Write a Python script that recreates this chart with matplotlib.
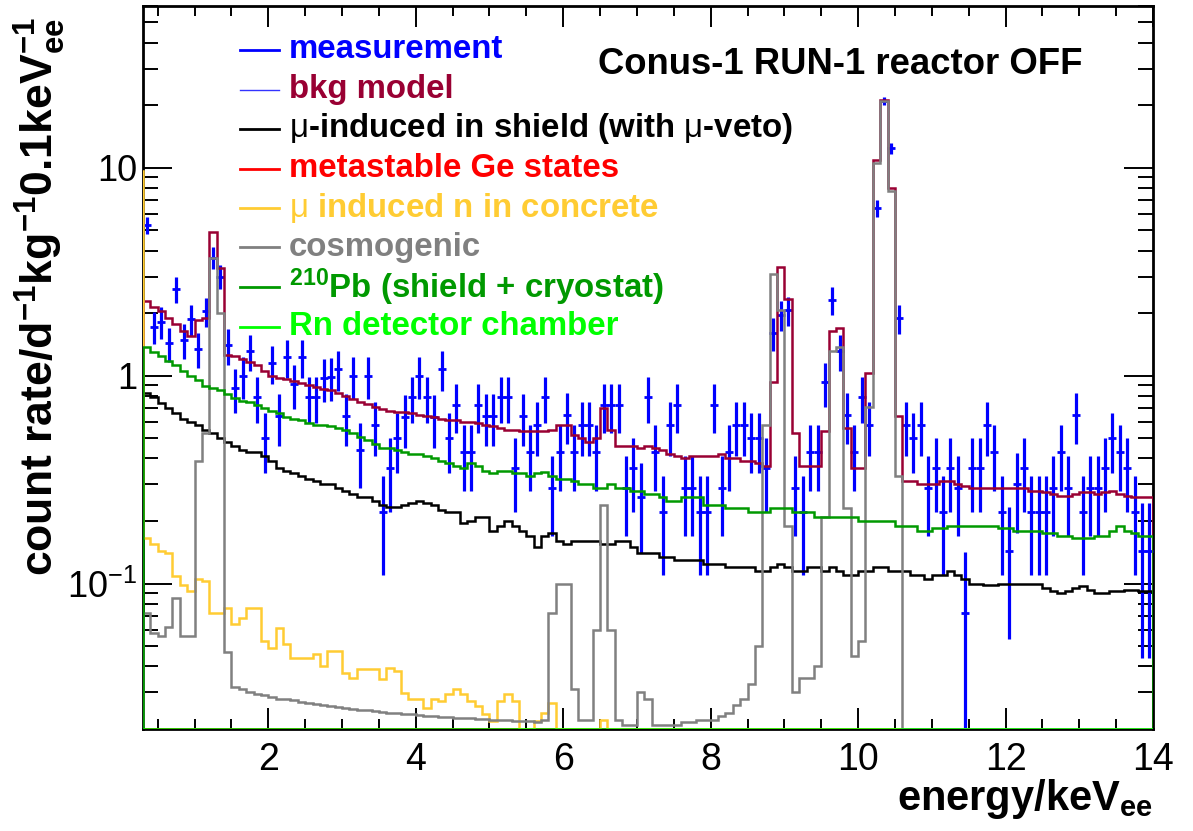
import numpy as np
import matplotlib
matplotlib.use("Agg")
import matplotlib.pyplot as plt
from matplotlib.ticker import FixedLocator, NullFormatter, MultipleLocator, FixedFormatter

plt.rcParams['font.family'] = ['Liberation Sans', 'DejaVu Sans']
plt.rcParams['mathtext.fontset'] = 'custom'
plt.rcParams['mathtext.rm'] = 'Liberation Sans'
plt.rcParams['mathtext.bf'] = 'Liberation Sans:bold'
plt.rcParams['mathtext.it'] = 'Liberation Sans:italic'

# ---------------- data (0.1 keV bins, 0.3 - 14.0 keV) ----------------
E_LO, E_HI, BIN_W = 0.3, 14.0, 0.1

measurement = [
    5.3, 1.72, 1.82, 1.43, 2.6, 1.49, 1.87, 1.35, 2.04, 3.7,
    3.0, 1.4, 0.87, 1.0, 1.31, 0.79, 0.50, 1.15, 0.64, 1.23,
    0.91, 1.23, 0.79, 0.79, 0.98, 0.99, 1.08, 0.64, 1.0, 0.44,
    1.0, 0.58, 0.22, 0.36, 0.50, 0.63, 0.79, 1.0, 0.79, 0.63,
    1.08, 0.50, 0.72, 0.43, 0.43, 0.72, 0.64, 0.64, 0.79, 0.79,
    0.36, 0.64, 0.43, 0.58, 0.79, 0.29, 0.43, 0.65, 0.43, 0.58,
    0.58, 0.43, 0.72, 0.72, 0.72, 0.29, 0.36, 0.26, 0.79, 0.43,
    0.22, 0.58, 0.72, 0.29, 0.29, 0.22, 0.22, 0.72, 0.29, 0.43,
    0.58, 0.58, 0.50, 0.50, 0.36, 1.6, 1.96, 2.07, 0.29, 0.22,
    0.43, 0.43, 0.93, 2.31, 1.31, 0.65, 0.43, 0.79, 0.58, 6.4,
    21.0, 12.4, 1.89, 0.58, 0.5, 0.58, 0.29, 0.36, 0.22, 0.36,
    0.29, 0.072, 0.36, 0.36, 0.58, 0.43, 0.22, 0.144, 0.3, 0.36,
    0.22, 0.22, 0.22, 0.29, 0.43, 0.29, 0.65, 0.22, 0.29, 0.29,
    0.36, 0.5, 0.43, 0.36, 0.22, 0.144, 0.144,
]
measurement_err = [
    0.52, 0.30, 0.31, 0.27, 0.37, 0.28, 0.31, 0.26, 0.33, 0.44,
    0.39, 0.27, 0.21, 0.23, 0.26, 0.20, 0.16, 0.24, 0.18, 0.25,
    0.22, 0.25, 0.20, 0.20, 0.23, 0.23, 0.24, 0.18, 0.23, 0.15,
    0.23, 0.17, 0.11, 0.14, 0.16, 0.18, 0.20, 0.23, 0.20, 0.18,
    0.24, 0.16, 0.19, 0.15, 0.15, 0.19, 0.18, 0.18, 0.20, 0.20,
    0.14, 0.18, 0.15, 0.17, 0.20, 0.12, 0.15, 0.18, 0.15, 0.17,
    0.17, 0.15, 0.19, 0.19, 0.19, 0.12, 0.14, 0.12, 0.20, 0.15,
    0.11, 0.17, 0.19, 0.12, 0.12, 0.11, 0.11, 0.19, 0.12, 0.15,
    0.17, 0.17, 0.16, 0.16, 0.14, 0.29, 0.32, 0.33, 0.12, 0.11,
    0.15, 0.15, 0.22, 0.35, 0.26, 0.18, 0.15, 0.20, 0.17, 0.58,
    1.0, 0.80, 0.31, 0.17, 0.16, 0.17, 0.12, 0.14, 0.11, 0.14,
    0.12, 0.07, 0.14, 0.14, 0.17, 0.15, 0.11, 0.09, 0.125, 0.14,
    0.11, 0.11, 0.11, 0.12, 0.15, 0.12, 0.18, 0.11, 0.12, 0.12,
    0.14, 0.16, 0.15, 0.14, 0.11, 0.10, 0.10,
]
bkg_model = [
    2.30, 2.15, 2.05, 1.90, 1.78, 1.65, 1.55, 1.85, 1.90, 4.90,
    3.30, 1.26, 1.24, 1.20, 1.17, 1.12, 1.05, 1.00, 0.98, 0.96,
    0.94, 0.92, 0.90, 0.88, 0.86, 0.85, 0.83, 0.80, 0.77, 0.75,
    0.73, 0.71, 0.69, 0.68, 0.67, 0.67, 0.66, 0.65, 0.64, 0.63,
    0.62, 0.61, 0.61, 0.60, 0.60, 0.59, 0.58, 0.57, 0.56, 0.55,
    0.55, 0.545, 0.54, 0.54, 0.545, 0.55, 0.58, 0.58, 0.52, 0.50,
    0.48, 0.50, 0.70, 0.55, 0.46, 0.46, 0.46, 0.45, 0.46, 0.45,
    0.44, 0.42, 0.41, 0.40, 0.41, 0.41, 0.41, 0.41, 0.42, 0.40,
    0.40, 0.39, 0.39, 0.38, 0.37, 0.93, 3.34, 2.34, 0.53, 0.37,
    0.37, 0.37, 0.54, 1.64, 1.70, 0.56, 0.36, 0.36, 1.03, 10.9,
    21.3, 8.0, 0.64, 0.31, 0.31, 0.30, 0.30, 0.30, 0.31, 0.31,
    0.30, 0.295, 0.29, 0.29, 0.29, 0.29, 0.29, 0.29, 0.29, 0.29,
    0.28, 0.28, 0.275, 0.27, 0.265, 0.265, 0.27, 0.275, 0.275, 0.27,
    0.275, 0.28, 0.27, 0.265, 0.26, 0.26, 0.26,
]
mu_shield = [
    0.83, 0.79, 0.74, 0.70, 0.66, 0.62, 0.60, 0.58, 0.55, 0.53,
    0.50, 0.48, 0.46, 0.44, 0.43, 0.43, 0.41, 0.39, 0.36, 0.35,
    0.34, 0.33, 0.32, 0.31, 0.30, 0.30, 0.29, 0.28, 0.27, 0.26,
    0.26, 0.25, 0.24, 0.235, 0.235, 0.24, 0.245, 0.25, 0.245, 0.24,
    0.225, 0.22, 0.22, 0.195, 0.20, 0.21, 0.21, 0.18, 0.19, 0.20,
    0.19, 0.18, 0.17, 0.15, 0.17, 0.175, 0.16, 0.155, 0.16, 0.16,
    0.16, 0.16, 0.155, 0.155, 0.16, 0.16, 0.15, 0.14, 0.14, 0.14,
    0.135, 0.135, 0.13, 0.13, 0.13, 0.13, 0.125, 0.125, 0.125, 0.12,
    0.12, 0.12, 0.12, 0.115, 0.115, 0.12, 0.125, 0.12, 0.115, 0.115,
    0.12, 0.12, 0.115, 0.12, 0.115, 0.11, 0.11, 0.115, 0.115, 0.12,
    0.12, 0.115, 0.115, 0.115, 0.11, 0.11, 0.105, 0.11, 0.11, 0.115,
    0.11, 0.105, 0.10, 0.10, 0.098, 0.098, 0.10, 0.10, 0.10, 0.10,
    0.10, 0.10, 0.095, 0.092, 0.09, 0.092, 0.095, 0.097, 0.093, 0.09,
    0.09, 0.092, 0.092, 0.093, 0.093, 0.092, 0.092,
]
metastable_ge = [
    0.01, 0.01, 0.01, 0.01, 0.01, 0.01, 0.01, 0.01, 0.01, 0.01,
    0.01, 0.01, 0.01, 0.01, 0.01, 0.01, 0.01, 0.01, 0.01, 0.01,
    0.01, 0.01, 0.01, 0.01, 0.01, 0.01, 0.01, 0.01, 0.01, 0.01,
    0.01, 0.01, 0.01, 0.01, 0.01, 0.01, 0.01, 0.01, 0.01, 0.01,
    0.01, 0.01, 0.01, 0.01, 0.01, 0.01, 0.01, 0.01, 0.01, 0.01,
    0.01, 0.01, 0.01, 0.01, 0.01, 0.01, 0.01, 0.01, 0.01, 0.01,
    0.01, 0.01, 0.01, 0.01, 0.01, 0.01, 0.01, 0.01, 0.01, 0.01,
    0.01, 0.01, 0.01, 0.01, 0.01, 0.01, 0.01, 0.01, 0.01, 0.01,
    0.01, 0.01, 0.01, 0.01, 0.01, 0.01, 0.01, 0.01, 0.01, 0.01,
    0.01, 0.01, 0.01, 0.01, 0.01, 0.01, 0.01, 0.01, 0.01, 0.01,
    0.01, 0.01, 0.01, 0.01, 0.01, 0.01, 0.01, 0.01, 0.01, 0.01,
    0.01, 0.01, 0.01, 0.01, 0.01, 0.01, 0.01, 0.01, 0.01, 0.01,
    0.01, 0.01, 0.01, 0.01, 0.01, 0.01, 0.01, 0.01, 0.01, 0.01,
    0.01, 0.01, 0.01, 0.01, 0.01, 0.01, 0.01,
]
# first entry is the 0.2-0.3 keV bin just left of the displayed range
mu_n_concrete = [
    9.7,
    0.165, 0.155, 0.144, 0.141, 0.109, 0.098, 0.0925, 0.105, 0.103, 0.0725,
    0.0725, 0.076, 0.064, 0.0686, 0.076, 0.076, 0.053, 0.049, 0.061, 0.051,
    0.044, 0.044, 0.044, 0.046, 0.0403, 0.0475, 0.0475, 0.0372, 0.0352, 0.0389,
    0.0389, 0.0389, 0.0348, 0.0393, 0.038, 0.0298, 0.0279, 0.0279, 0.0252, 0.0279,
    0.0273, 0.0295, 0.0312, 0.0295, 0.0273, 0.0258, 0.0236, 0.0219, 0.0273, 0.0295,
    0.0273, 0.019, 0.019, 0.0219, 0.0239, 0.0266, 0.015, 0.015, 0.015, 0.015,
    0.015, 0.015, 0.022, 0.015, 0.01, 0.01, 0.01, 0.01, 0.01, 0.01,
    0.01, 0.01, 0.01, 0.01, 0.01, 0.01, 0.01, 0.01, 0.01, 0.01,
    0.01, 0.01, 0.01, 0.01, 0.01, 0.01, 0.01, 0.01, 0.01, 0.01,
    0.01, 0.01, 0.01, 0.01, 0.01, 0.01, 0.01, 0.01, 0.01, 0.01,
    0.01, 0.01, 0.01, 0.01, 0.01, 0.01, 0.01, 0.01, 0.01, 0.01,
    0.01, 0.01, 0.01, 0.01, 0.01, 0.01, 0.01, 0.01, 0.01, 0.01,
    0.01, 0.01, 0.01, 0.01, 0.01, 0.01, 0.01, 0.01, 0.01, 0.01,
    0.01, 0.01, 0.01, 0.01, 0.01, 0.01, 0.01,
]
cosmogenic = [
    0.072, 0.058, 0.056, 0.062, 0.085, 0.056, 0.056, 0.39, 0.53, 3.7,
    2.0, 0.047, 0.032, 0.031, 0.030, 0.0295, 0.029, 0.0285, 0.028, 0.0278,
    0.0275, 0.027, 0.0267, 0.0264, 0.0261, 0.0258, 0.0255, 0.0253, 0.025, 0.0248,
    0.0246, 0.0244, 0.0242, 0.024, 0.0238, 0.0236, 0.0235, 0.0233, 0.0232, 0.023,
    0.0229, 0.0228, 0.0227, 0.0226, 0.0225, 0.0224, 0.0223, 0.0222, 0.0221, 0.022,
    0.0219, 0.0218, 0.0218, 0.0217, 0.022, 0.072, 0.10, 0.10, 0.031, 0.022,
    0.022, 0.06, 0.24, 0.06, 0.022, 0.021, 0.021, 0.03, 0.028, 0.021,
    0.021, 0.021, 0.021, 0.0215, 0.0215, 0.022, 0.022, 0.022, 0.023, 0.024,
    0.026, 0.028, 0.033, 0.05, 0.58, 3.1, 2.07, 0.19, 0.03, 0.035,
    0.035, 0.04, 0.21, 1.31, 1.37, 0.23, 0.045, 0.053, 0.71, 10.6,
    21.0, 7.7, 0.33, 0.01, 0.01, 0.01, 0.01, 0.01, 0.01, 0.01,
    0.01, 0.01, 0.01, 0.01, 0.01, 0.01, 0.01, 0.01, 0.01, 0.01,
    0.01, 0.01, 0.01, 0.01, 0.01, 0.01, 0.01, 0.01, 0.01, 0.01,
    0.01, 0.01, 0.01, 0.01, 0.01, 0.01, 0.01,
]
pb210 = [
    1.38, 1.30, 1.25, 1.18, 1.12, 1.05, 1.00, 0.95, 0.89, 0.87,
    0.85, 0.82, 0.78, 0.76, 0.75, 0.72, 0.70, 0.68, 0.66, 0.63,
    0.62, 0.61, 0.59, 0.58, 0.58, 0.57, 0.56, 0.55, 0.53, 0.51,
    0.49, 0.47, 0.45, 0.45, 0.44, 0.43, 0.42, 0.42, 0.41, 0.40,
    0.39, 0.38, 0.37, 0.36, 0.38, 0.37, 0.35, 0.34, 0.35, 0.35,
    0.34, 0.34, 0.33, 0.34, 0.345, 0.33, 0.32, 0.32, 0.31, 0.30,
    0.30, 0.29, 0.29, 0.30, 0.29, 0.29, 0.28, 0.28, 0.27, 0.27,
    0.26, 0.25, 0.25, 0.26, 0.26, 0.26, 0.24, 0.24, 0.24, 0.23,
    0.23, 0.23, 0.22, 0.22, 0.22, 0.23, 0.23, 0.23, 0.22, 0.22,
    0.22, 0.21, 0.21, 0.21, 0.21, 0.21, 0.21, 0.20, 0.20, 0.20,
    0.20, 0.20, 0.19, 0.19, 0.19, 0.18, 0.18, 0.185, 0.185, 0.19,
    0.19, 0.19, 0.19, 0.19, 0.19, 0.19, 0.185, 0.185, 0.18, 0.18,
    0.18, 0.18, 0.175, 0.175, 0.17, 0.17, 0.165, 0.165, 0.165, 0.17,
    0.17, 0.18, 0.19, 0.18, 0.175, 0.17, 0.17,
]
rn_chamber = [
    0.005, 0.005, 0.005, 0.005, 0.005, 0.005, 0.005, 0.005, 0.005, 0.005,
    0.005, 0.005, 0.005, 0.005, 0.005, 0.005, 0.005, 0.005, 0.005, 0.005,
    0.005, 0.005, 0.005, 0.005, 0.005, 0.005, 0.005, 0.005, 0.005, 0.005,
    0.005, 0.005, 0.005, 0.005, 0.005, 0.005, 0.005, 0.005, 0.005, 0.005,
    0.005, 0.005, 0.005, 0.005, 0.005, 0.005, 0.005, 0.005, 0.005, 0.005,
    0.005, 0.005, 0.005, 0.005, 0.005, 0.005, 0.005, 0.005, 0.005, 0.005,
    0.005, 0.005, 0.005, 0.005, 0.005, 0.005, 0.005, 0.005, 0.005, 0.005,
    0.005, 0.005, 0.005, 0.005, 0.005, 0.005, 0.005, 0.005, 0.005, 0.005,
    0.005, 0.005, 0.005, 0.005, 0.005, 0.005, 0.005, 0.005, 0.005, 0.005,
    0.005, 0.005, 0.005, 0.005, 0.005, 0.005, 0.005, 0.005, 0.005, 0.005,
    0.005, 0.005, 0.005, 0.005, 0.005, 0.005, 0.005, 0.005, 0.005, 0.005,
    0.005, 0.005, 0.005, 0.005, 0.005, 0.005, 0.005, 0.005, 0.005, 0.005,
    0.005, 0.005, 0.005, 0.005, 0.005, 0.005, 0.005, 0.005, 0.005, 0.005,
    0.005, 0.005, 0.005, 0.005, 0.005, 0.005, 0.005,
]

legend_labels = [
    "measurement", "bkg model",
    r"$\mathrm{\mu}$-induced in shield (with $\mathrm{\mu}$-veto)",
    "metastable Ge states", r"$\mathrm{\mu}$ induced n in concrete", "cosmogenic",
    r"$\mathbf{^{210}}$Pb (shield + cryostat)", "Rn detector chamber",
]
title_text = "Conus-1 RUN-1 reactor OFF"

# ---------------- styling ----------------
YMIN, YMAX = 0.02, 60.0
C_DATA = "#0000ff"
C_MODEL = "#990033"
C_SHIELD = "#000000"
C_META = "#ff0000"
C_CONCRETE = "#ffcc33"
C_COSMO = "#808080"
C_PB = "#009900"
C_RN = "#00ff00"
LW = 1.8

n_bins = len(measurement)
edges = E_LO + BIN_W * np.arange(n_bins + 1)
centers = 0.5 * (edges[:-1] + edges[1:])
edges_conc = (E_LO - BIN_W) + BIN_W * np.arange(len(mu_n_concrete) + 1)

fig = plt.figure(figsize=(11.93, 8.31), dpi=100)
ax = fig.add_axes([143 / 1193, 1 - 729 / 831, (1153 - 143) / 1193, (729 - 6) / 831])
ax.set_yscale('log')
ax.set_xlim(E_LO, E_HI)
ax.set_ylim(YMIN, YMAX)

# measurement
meas = np.array(measurement)
err = np.array(measurement_err)
lower = np.minimum(err, meas - 1e-4)
ax.errorbar(centers, meas, yerr=[lower, err], fmt='none', ecolor=C_DATA,
            elinewidth=2.3, capsize=0, zorder=3)
ax.plot(centers, meas, ls='none', marker='_', ms=6, mew=2.0, color=C_DATA, zorder=3)


def hist(values, e, color, z):
    v = np.maximum(np.asarray(values, float), YMIN)
    ax.stairs(v, e, baseline=YMIN, color=color, lw=LW, zorder=z)


hist(bkg_model, edges, C_MODEL, 4)
hist(mu_shield, edges, C_SHIELD, 5)
hist(metastable_ge, edges, C_META, 5)
hist(mu_n_concrete, edges_conc, C_CONCRETE, 6)
hist(cosmogenic, edges, C_COSMO, 7)
hist(pb210, edges, C_PB, 8)
hist(rn_chamber, edges, C_RN, 9)

# axes / ticks
for s in ax.spines.values():
    s.set_linewidth(2.0)
ax.xaxis.set_major_locator(MultipleLocator(2))
ax.xaxis.set_minor_locator(MultipleLocator(0.5))
ax.yaxis.set_major_locator(FixedLocator([0.1, 1, 10]))
ax.yaxis.set_major_formatter(FixedFormatter([r"$10^{-1}$", "1", "10"]))
minors = [m * 10.0 ** k for k in (-2, -1, 0, 1) for m in range(2, 10)]
ax.yaxis.set_minor_locator(FixedLocator(minors))
ax.yaxis.set_minor_formatter(NullFormatter())
ax.tick_params(which='both', direction='in', top=True, right=True, width=1.4)
ax.tick_params(axis='x', which='major', length=15, labelsize=27, pad=9)
ax.tick_params(axis='x', which='minor', length=7.5)
ax.tick_params(axis='y', which='major', length=21, labelsize=26, pad=4)
ax.tick_params(axis='y', which='minor', length=11)

ax.set_xlabel(r"energy/keV$_{\mathbf{ee}}$", fontsize=30, fontweight='bold', loc='right')
ax.xaxis.set_label_coords(1.0, -0.066)
ax.set_ylabel(r"count rate/d$^{\mathbf{-1}}$kg$^{\mathbf{-1}}$0.1keV$^{\mathbf{-1}}_{\mathbf{ee}}$",
              fontsize=32, fontweight='bold', loc='top')
ax.yaxis.set_label_coords(-0.0745, 0.985)

# legend (ROOT style, manual)
leg_colors = ["#0000ff", C_MODEL, C_SHIELD, C_META, C_CONCRETE, C_COSMO, C_PB, C_RN]
line_colors = ["#0000ff", "#3333ff", C_SHIELD, C_META, C_CONCRETE, C_COSMO, C_PB, C_RN]
line_widths = [2.0, 1.0, 2.0, 2.0, 2.0, 2.0, 2.0, 2.0]
trans = ax.transAxes
x_line0 = (240 - 143) / 1010
x_line1 = (279 - 143) / 1010
x_text = (289 - 143) / 1010
for k, lab in enumerate(legend_labels):
    yp = 50 + 39.5 * k
    yf = 1 - (yp - 6) / 723
    ax.plot([x_line0, x_line1], [yf, yf], transform=trans, color=line_colors[k],
            lw=line_widths[k], clip_on=False, zorder=10)
    ax.text(x_text, yf, lab, transform=trans, color=leg_colors[k], fontsize=23.8,
            fontweight='bold', va='center', ha='left', zorder=10)

ax.text((598 - 143) / 1010, 1 - (65 - 6) / 723, title_text, transform=trans,
        fontsize=26.3, fontweight='bold', va='center', ha='left', zorder=10)

fig.savefig("out.png", dpi=100)
